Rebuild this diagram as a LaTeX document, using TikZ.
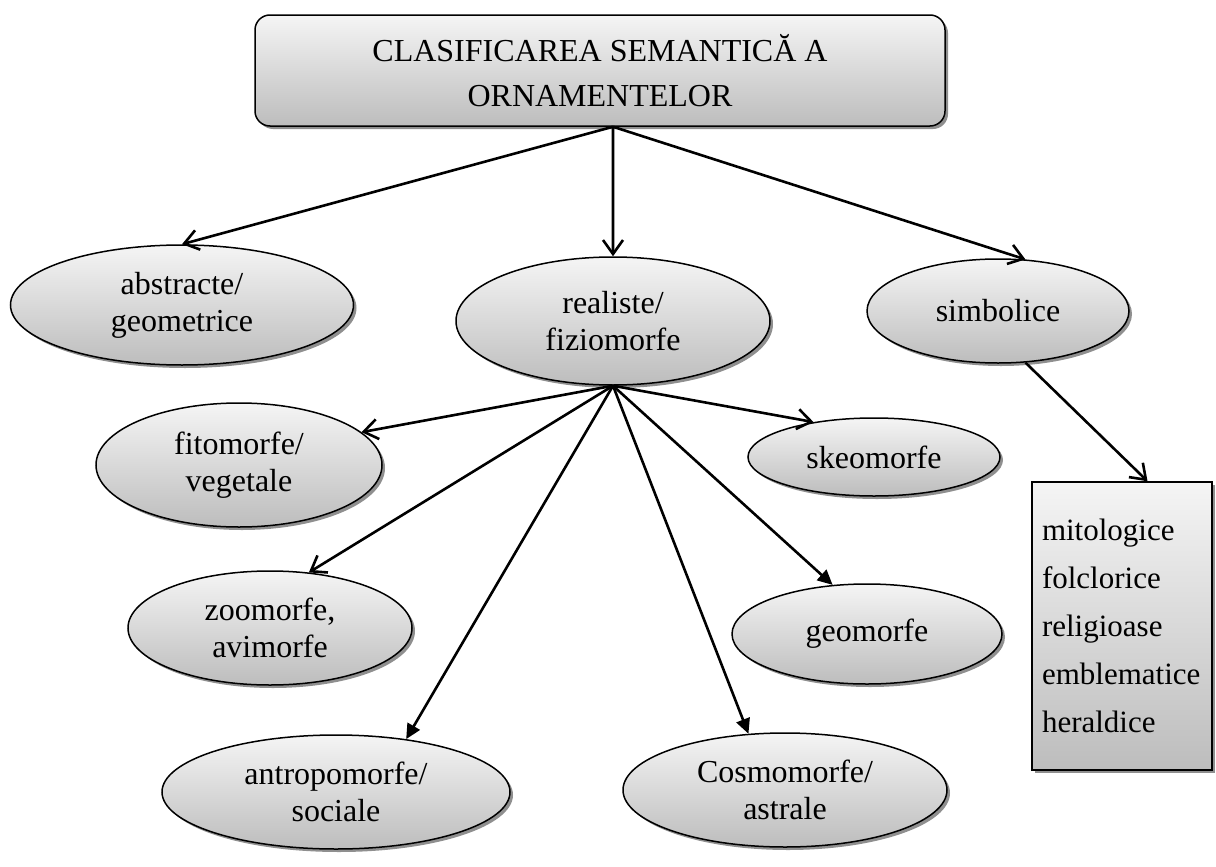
\documentclass[tikz,border=0pt]{standalone}
\usepackage{fontspec}
\setmainfont{Liberation Serif}
\usetikzlibrary{arrows.meta,shapes.geometric,shadows}

\begin{document}
\begin{tikzpicture}[x=0.5pt,y=-0.5pt,font=\fontsize{16}{18.5}\selectfont,
  box/.style={draw,line width=0.75pt,top color=black!4,bottom color=black!26,
    drop shadow={shadow xshift=1.5pt,shadow yshift=-1.5pt,fill=black!55,opacity=.8}},
  oval/.style={box,ellipse,inner sep=0pt,align=center},
  barb/.style={line width=1.3pt,-{Straight Barb[length=7pt,width=10pt]}},
  head/.style={line width=1.3pt,-{Triangle[length=7.5pt,width=7pt]}}]
  \useasboundingbox (0,0) rectangle (1216,867);
  \node[box,rounded corners=7.5pt,minimum width=345pt,minimum height=55.5pt,align=center,
    font=\fontsize{16}{22.5}\selectfont] (title) at (600,70.5) {CLASIFICAREA SEMANTICĂ A\\ORNAMENTELOR};
  \node[oval,minimum width=171.5pt,minimum height=60pt] (abs) at (182,305) {abstracte/\\geometrice};
  \node[oval,minimum width=157pt,minimum height=64pt] (real) at (613,321) {realiste/\\fiziomorfe};
  \node[oval,minimum width=131pt,minimum height=52pt] (sim) at (998,311) {simbolice};
  \node[oval,minimum width=143pt,minimum height=62pt] (fito) at (239,465) {fitomorfe/\\vegetale};
  \node[oval,minimum width=126pt,minimum height=39pt] (skeo) at (874,457) {skeomorfe};
  \node[oval,minimum width=142pt,minimum height=57pt] (zoo) at (270,628) {zoomorfe,\\avimorfe};
  \node[oval,minimum width=135pt,minimum height=50pt] (geo) at (867,634) {geomorfe};
  \node[oval,minimum width=174pt,minimum height=57pt] (antro) at (336,792) {antropomorfe/\\sociale};
  \node[oval,minimum width=162pt,minimum height=57pt] (cosmo) at (785,790) {Cosmomorfe/\\astrale};
  \node[box,minimum width=90pt,minimum height=144pt,text width=80pt,align=left,
    font=\fontsize{15.5}{24}\selectfont] (list) at (1122,626)
    {mitologice\\folclorice\\religioase\\emblematice\\heraldice};
  % sageti
  \draw[barb] (title.-77) -- (abs.north);
  \draw[barb] (title.-77) -- (real.north);
  \draw[barb] (title.-77) -- (sim.62);
  \draw[barb] (real.south) -- (fito.15);
  \draw[barb] (real.south) -- (zoo.55);
  \draw[head] (real.south) -- (antro.37);
  \draw[head] (real.south) -- (cosmo.123);
  \draw[head] (real.south) -- (geo.125);
  \draw[barb] (real.south) -- (skeo.150);
  \draw[barb] (sim.-62) -- (list.80);
\end{tikzpicture}
\end{document}
